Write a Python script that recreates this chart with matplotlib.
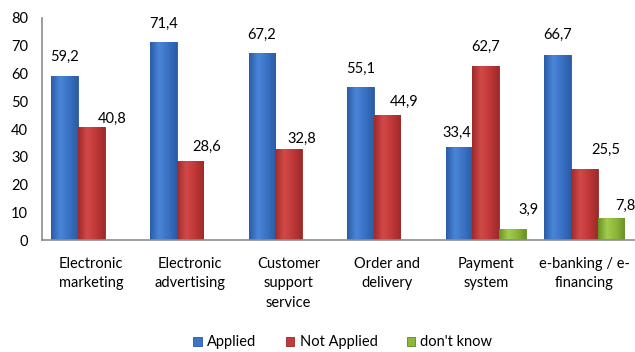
import matplotlib
matplotlib.use("Agg")
import matplotlib.pyplot as plt
from matplotlib.colors import LinearSegmentedColormap
import numpy as np

categories = ["Electronic\nmarketing", "Electronic\nadvertising", "Customer\nsupport\nservice",
              "Order and\ndelivery", "Payment\nsystem", "e-banking / e-\nfinancing"]
applied = [59.2, 71.4, 67.2, 55.1, 33.4, 66.7]
not_applied = [40.8, 28.6, 32.8, 44.9, 62.7, 25.5]
dont_know = [None, None, None, None, 3.9, 7.8]
series_names = ["Applied", "Not Applied", "don't know"]
yticks = [0, 10, 20, 30, 40, 50, 60, 70, 80]

# label offsets in pixels (style only)
off_applied = [(0, 19), (0, 18), (0, 19), (0, 18), (-2, 14), (0, 20)]
off_not = [(21, 8), (17, 14), (13, 10), (17, 14), (0, 19), (21, 19)]
off_dk = [None, None, None, None, (16, 19), (14, 13)]

plt.rcParams['font.family'] = ['Lato', 'DejaVu Sans']

fig = plt.figure(figsize=(6.35, 3.52), dpi=100)
ax = fig.add_axes([0.066, 0.318, 0.932, 0.631])

colors = ["#3C74C6", "#C53A3A", "#8CB83A"]
grads = [["#2B5CA6", "#4A86D8", "#3A72C4", "#2B5CA6"],
         ["#9E2A2A", "#D24A48", "#C03838", "#9E2A2A"],
         ["#6A9226", "#A2CC4C", "#8CB83A", "#6A9226"]]
edges = ["#2A5597", "#962828", "#5F8322"]
w = 0.27
x = np.arange(len(categories))

def fmt(v):
    return ("%.1f" % v).replace(".", ",")

for si, (vals, offs) in enumerate([(applied, off_applied), (not_applied, off_not), (dont_know, off_dk)]):
    xs = [xi + (si - 1) * w for xi, v in zip(x, vals) if v is not None]
    vs = [v for v in vals if v is not None]
    os_ = [o for o, v in zip(offs, vals) if v is not None]
    bars = ax.bar(xs, vs, w, color=colors[si], edgecolor=edges[si], linewidth=0.6,
                  label=series_names[si], zorder=3)
    cmap = LinearSegmentedColormap.from_list("g%d" % si, grads[si])
    grad = np.linspace(0, 1, 64).reshape(1, -1)
    for b, v, o in zip(bars, vs, os_):
        x0 = b.get_x()
        im = ax.imshow(grad, cmap=cmap, aspect='auto', extent=(x0, x0 + b.get_width(), 0, v),
                       zorder=3.5, interpolation='bicubic')
        im.set_clip_path(b)
        ax.annotate(fmt(v), (x0 + b.get_width() / 2, v), xytext=o,
                    textcoords='offset pixels', ha='center', va='center', fontsize=10.5, color='black')

ax.set_xlim(-0.5, len(categories) - 0.5)
ax.set_ylim(0, 80)
ax.set_yticks(yticks)
ax.set_xticks(x)
ax.set_xticklabels(categories, fontsize=10.5, linespacing=1.5, va='top')
ax.tick_params(axis='both', length=0, labelsize=10.5)
ax.tick_params(axis='x', pad=12)
ax.tick_params(axis='y', pad=10)
for s in ['top', 'right']:
    ax.spines[s].set_visible(False)
for s in ['left', 'bottom']:
    ax.spines[s].set_color('#8C8C8C')
    ax.spines[s].set_linewidth(1.2)
    ax.spines[s].set_zorder(5)

leg = fig.legend(loc='center', bbox_to_anchor=(0.54, 0.027), ncol=3, frameon=False,
                 fontsize=10.5, handlelength=0.6, handleheight=0.6, handletextpad=0.35,
                 columnspacing=2.0, borderpad=0.2)

fig.savefig("out.png", dpi=100)
